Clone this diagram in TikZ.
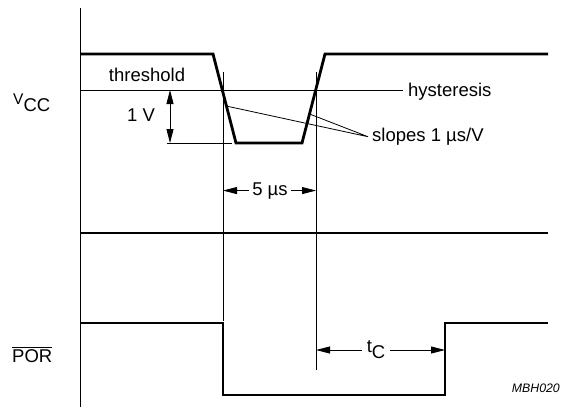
\documentclass[tikz,border=0pt]{standalone}
\usepackage{fontspec}
\setmainfont{Liberation Sans}
\usetikzlibrary{arrows.meta,calc}

\begin{document}
\begin{tikzpicture}[x=1pt,y=-1pt,
            wave/.style={line width=2.8pt, line join=miter},
            guide/.style={line width=0.8pt},
            dimline/.style={line width=0.8pt, -{Triangle[length=14pt,width=7pt]}},
            txt/.style={font=\fontsize{18.5}{22}\selectfont, inner sep=0pt}]
            \useasboundingbox (0,0) rectangle (561,407);
            % time axis
            \coordinate (axtop) at (80,8);
            \coordinate (axbot) at (80,407);
            \draw[guide] (axtop) -- (axbot);
            % VCC dip
            \coordinate (fa) at (213,54);
            \coordinate (fb) at (236,143);
            \coordinate (ra) at (302,143);
            \coordinate (rb) at (325,54);
            \draw[wave] (80,54) -- (fa) -- (fb) -- (ra) -- (rb) -- (548,54);
            \node[txt, anchor=base west] (vcc) at (13,111) {\raisebox{7pt}{\fontsize{15.5}{18}\selectfont V}CC};
            % threshold and hysteresis
            \node[txt, anchor=base] (thr) at (147,81.5) {threshold};
            \node[txt, anchor=base west] (hys) at (408,96) {hysteresis};
            \coordinate (th0) at (80,90);
            \draw[guide] (th0) -- ([xshift=-5pt]hys.west |- th0);
            % 1 V step
            \coordinate (va) at (170,90);
            \coordinate (vb) at (170,143);
            \draw[guide] (167,143) -- (232,143);
            \draw[dimline, {Triangle[length=14pt,width=7pt]}-{Triangle[length=14pt,width=7pt]}] (va) -- (vb);
            \node[txt, anchor=base] (onev) at (141,121.5) {1 V};
            % slopes
            \coordinate (s1) at ($(fa)!0.585!(fb)$);
            \coordinate (s2) at ($(ra)!0.326!(rb)$);
            \node[txt, anchor=base west] (slp) at (372,141.5) {slopes 1 µs/V};
            \draw[guide] (s1) -- ([xshift=-4pt]slp.west) -- (s2);
            % markers
            \coordinate (m1top) at (223,72);
            \coordinate (m1bot) at (223,321);
            \coordinate (m2top) at (316,72);
            \coordinate (m2bot) at (316,370);
            \draw[guide] (m1top) -- (m1bot);
            \draw[guide] (m2top) -- (m2bot);
            % 5 us
            \node[txt, anchor=base] (five) at (270,195) {5 µs};
            \draw[dimline] ([xshift=-3pt]five.west) -- (m1top |- five.west);
            \draw[dimline] ([xshift=3pt]five.east) -- (m2top |- five.east);
            % middle trace
            \draw[wave] (80,233) -- (548,233);
            % POR
            \coordinate (pa) at (223,323);
            \coordinate (pb) at (223,395);
            \coordinate (pc) at (445,395);
            \coordinate (pd) at (445,323);
            \draw[wave] (80,323) -- (pa) -- (pb) -- (pc) -- (pd) -- (548,323);
            \node[txt, anchor=base west] (por) at (12,362) {$\overline{\mbox{POR}}$};
            % tC
            \node[txt, anchor=center] (tc) at (376,350) {\raisebox{6pt}{t}C};
            \draw[dimline] ([xshift=-5pt]tc.west) -- (m2top |- tc.west);
            \draw[dimline] ([xshift=5pt]tc.east) -- (pd |- tc.east);
            \node[font=\fontsize{12.3}{14}\selectfont\itshape, inner sep=0pt, anchor=base east] (code) at (560,392) {MBH020};
        \end{tikzpicture}
\end{document}
